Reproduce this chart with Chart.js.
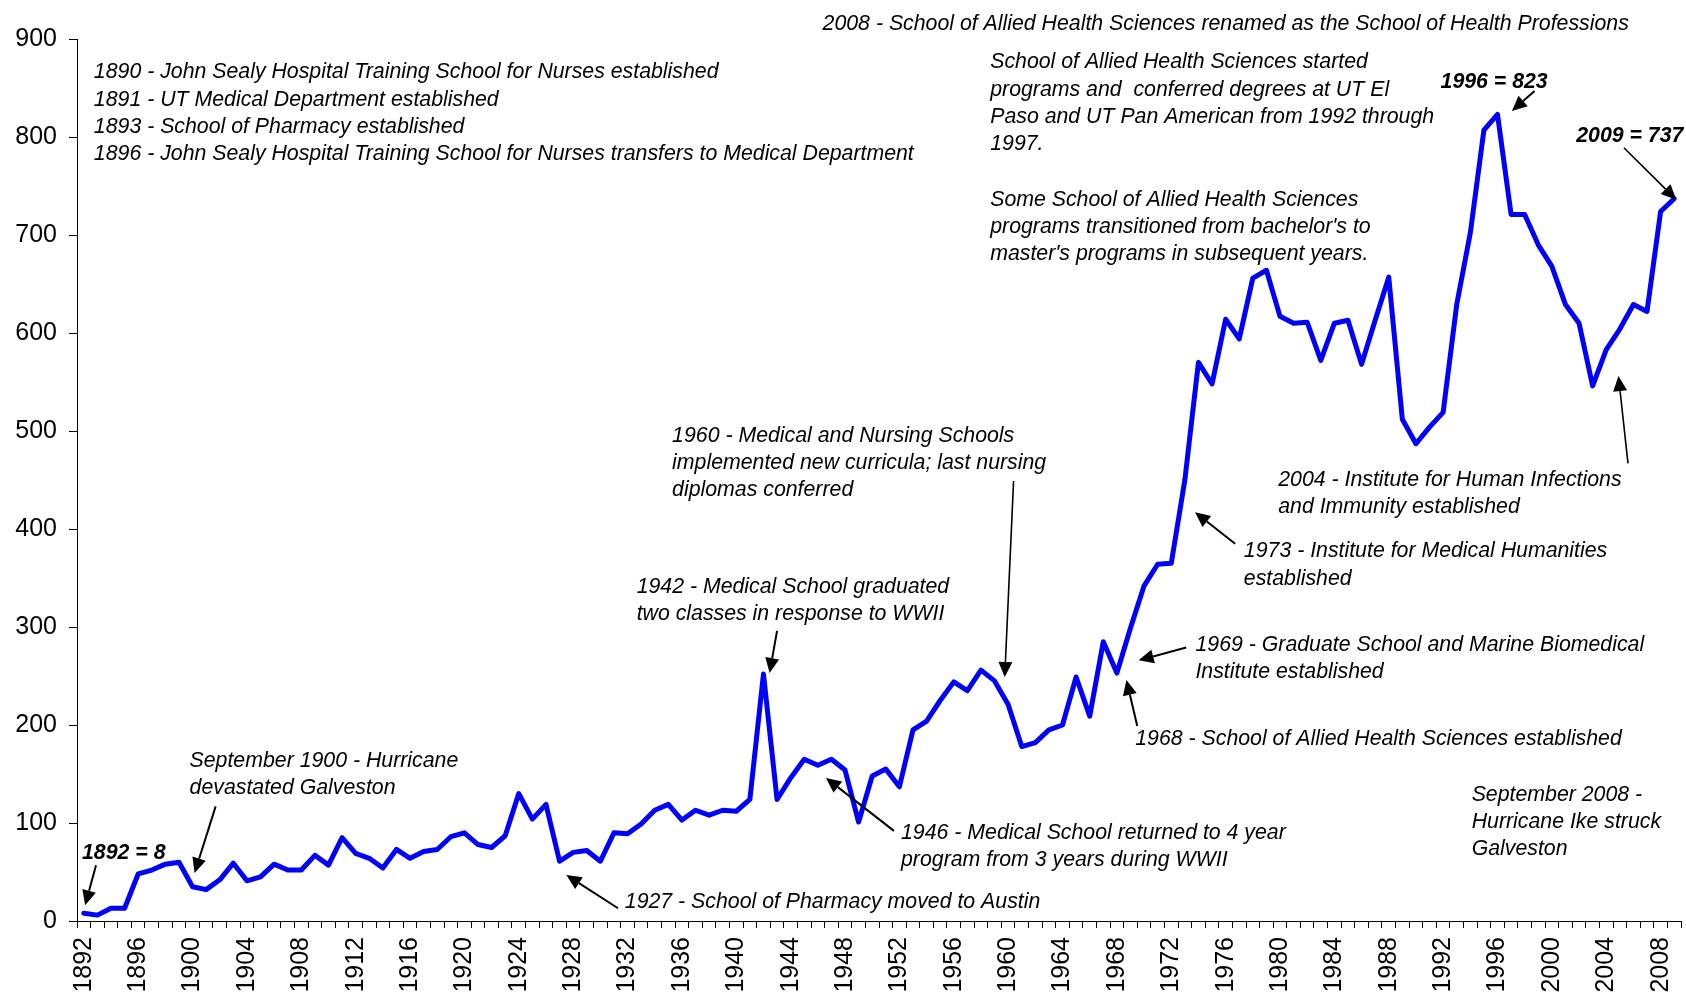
<!DOCTYPE html>
<html>
<head>
<meta charset="utf-8">
<script src="https://cdn.jsdelivr.net/npm/chart.js@4.4.1/dist/chart.umd.min.js"></script>
<style>
html,body{margin:0;padding:0;background:#fff;}
#wrap{width:1686px;height:997px;}
</style>
</head>
<body>
<div id="wrap"><canvas id="c" width="1686" height="997"></canvas></div>
<script>
// ---- categories ----
const years = [
 1892,1893,1894,1895,1896,1897,1898,1899,1900,1901,1902,1903,1904,1905,1906,1907,1908,1909,1910,1911,
 1912,1913,1914,1915,1916,1917,1918,1919,1920,1921,1922,1923,1924,1925,1926,1927,1928,1929,1930,1931,
 1932,1933,1934,1935,1936,1937,1938,1939,1940,1941,1942,1943,1944,1945,1946,1947,1948,1949,1950,1951,
 1952,1953,1954,1955,1956,1957,1958,1959,1960,1961,1962,1963,1964,1965,1966,1967,1968,1969,1970,1971,
 1972,1973,1974,1975,1976,1977,1978,1979,1980,1981,1982,1983,1984,1985,1986,1987,1988,1989,1990,1991,
 1992,1993,1994,1995,1996,1997,1998,1999,2000,2001,2002,2003,2004,2005,2006,2007,2008,2009
];
// ---- series values (graduates per year) ----
const graduates = [
 8,6,13,13,48,52,58,60,35,32,42,59,41,45,58,52,52,67,57,85,
 69,64,54,73,64,71,73,86,90,78,75,87,130,104,119,61,70,72,61,90,
 89,99,113,119,103,113,108,113,112,124,252,124,146,165,159,165,154,101,148,155,
 137,195,204,225,244,235,256,245,221,178,182,195,200,249,209,285,253,299,342,364,
 365,450,570,548,614,594,656,664,617,610,611,572,610,613,568,613,657,512,487,504,
 519,629,702,807,823,721,721,690,668,629,610,546,583,604,629,622,724,737
];
// ---- tick labels ----
const xTickLabels = ['1892','1896','1900','1904','1908','1912','1916','1920','1924','1928','1932','1936','1940','1944','1948','1952','1956','1960','1964','1968','1972','1976','1980','1984','1988','1992','1996','2000','2004','2008'];
const yTickValues = [0,100,200,300,400,500,600,700,800,900];

// ---- annotation texts (anchored in data units: year, value) ----
const notes = [
 {year:1946.35, value:915, bold:false, lines:['2008 - School of Allied Health Sciences renamed as the School of Health Professions']},
 {year:1892.74, value:866, bold:false, lines:['1890 - John Sealy Hospital Training School for Nurses established','1891 - UT Medical Department established','1893 - School of Pharmacy established','1896 - John Sealy Hospital Training School for Nurses transfers to Medical Department']},
 {year:1958.68, value:876, bold:false, lines:['School of Allied Health Sciences started','programs and  conferred degrees at UT El','Paso and UT Pan American from 1992 through','1997.']},
 {year:1958.68, value:736, bold:false, lines:['Some School of Allied Health Sciences','programs transitioned from bachelor\'s to','master\'s programs in subsequent years.']},
 {year:1991.81, value:856, bold:true, lines:['1996 = 823']},
 {year:2001.79, value:800.5, bold:true, lines:['2009 = 737']},
 {year:1979.87, value:450, bold:false, lines:['2004 - Institute for Human Infections','and Immunity established']},
 {year:1977.34, value:377, bold:false, lines:['1973 - Institute for Medical Humanities','established']},
 {year:1973.78, value:282, bold:false, lines:['1969 - Graduate School and Marine Biomedical','Institute established']},
 {year:1969.35, value:186, bold:false, lines:['1968 - School of Allied Health Sciences established']},
 {year:1994.1, value:129, bold:false, lines:['September 2008 -','Hurricane Ike struck','Galveston']},
 {year:1935.28, value:495, bold:false, lines:['1960 - Medical and Nursing Schools','implemented new curricula; last nursing','diplomas conferred']},
 {year:1932.67, value:341, bold:false, lines:['1942 - Medical School graduated','two classes in response to WWII']},
 {year:1952.12, value:90, bold:false, lines:['1946 - Medical School returned to 4 year','program from 3 years during WWII']},
 {year:1931.8, value:19, bold:false, lines:['1927 - School of Pharmacy moved to Austin']},
 {year:1899.78, value:163, bold:false, lines:['September 1900 - Hurricane','devastated Galveston']},
 {year:1891.87, value:69, bold:true, lines:['1892 = 8']}
];
// arrows: tail (year,value) -> head (year,value)
const arrows = [
 {from:[1892.9,57], to:[1892.1,16], heavy:true},
 {from:[1901.7,117], to:[1900.15,49], heavy:true},
 {from:[1931.3,13], to:[1927.5,47], heavy:true},
 {from:[1951.6,92], to:[1946.6,146], heavy:true},
 {from:[1943.0,296], to:[1942.45,253], heavy:true},
 {from:[1960.4,449], to:[1959.75,249], heavy:false},
 {from:[1973.1,279], to:[1969.6,266], heavy:true},
 {from:[1969.5,199], to:[1968.7,246], heavy:true},
 {from:[1976.7,385], to:[1973.75,417], heavy:true},
 {from:[2005.6,467], to:[2004.9,556], heavy:false},
 {from:[1998.73,847], to:[1997.06,826.5], heavy:true},
 {from:[2005.3,789], to:[2009.15,736], heavy:false}
];

const FAMILY = '"Liberation Sans", Arial, Helvetica, sans-serif';
const NOTE_SIZE = 21.3;
const LINE_STEP = 27.3;
const TEXT_DY = 0;

const annotationPlugin = {
  id: 'notes',
  afterDraw(chart) {
    const ctx = chart.ctx;
    const xs = chart.scales.x, ys = chart.scales.y;
    const px = (yr) => xs.getPixelForValue(yr - years[0]);
    const py = (v) => ys.getPixelForValue(v);
    ctx.save();
    ctx.fillStyle = '#000';
    ctx.textBaseline = 'middle';
    ctx.textAlign = 'left';
    notes.forEach(n => {
      ctx.font = (n.bold ? 'italic bold ' : 'italic ') + NOTE_SIZE + 'px ' + FAMILY;
      const x = px(n.year), y0 = py(n.value) + TEXT_DY;
      n.lines.forEach((t, i) => ctx.fillText(t, x, y0 + i * LINE_STEP));
    });
    arrows.forEach(a => {
      const x1 = px(a.from[0]), y1 = py(a.from[1]);
      const x2 = px(a.to[0]), y2 = py(a.to[1]);
      const ang = Math.atan2(y2 - y1, x2 - x1);
      const headLen = 15, headW = 7;
      const bx = x2 - headLen * Math.cos(ang), by = y2 - headLen * Math.sin(ang);
      ctx.strokeStyle = '#000';
      ctx.lineWidth = a.heavy ? 2 : 1.6;
      ctx.beginPath();
      ctx.moveTo(x1, y1);
      ctx.lineTo(bx, by);
      ctx.stroke();
      ctx.beginPath();
      ctx.moveTo(x2, y2);
      ctx.lineTo(bx + headW * Math.sin(ang), by - headW * Math.cos(ang));
      ctx.lineTo(bx - headW * Math.sin(ang), by + headW * Math.cos(ang));
      ctx.closePath();
      ctx.fillStyle = '#000';
      ctx.fill();
    });
    ctx.restore();
  }
};

new Chart(document.getElementById('c'), {
  type: 'line',
  data: {
    labels: years.map(String),
    datasets: [{
      data: graduates,
      borderColor: '#0000FF',
      borderWidth: 5,
      pointRadius: 0,
      tension: 0,
      fill: false,
      borderJoinStyle: 'round',
      borderCapStyle: 'round'
    }]
  },
  options: {
    responsive: false,
    animation: false,
    devicePixelRatio: 1,
    layout: { padding: { top: 39, right: 5, bottom: 0, left: 0 } },
    plugins: { legend: { display: false }, tooltip: { enabled: false } },
    scales: {
      x: {
        type: 'category',
        offset: true,
        grid: { offset: true, drawOnChartArea: false, drawTicks: true, tickLength: 7, color: '#000', lineWidth: 1 },
        border: { display: true, color: '#000', width: 1 },
        ticks: {
          autoSkip: false, maxRotation: 90, minRotation: 90, padding: 9,
          color: '#000', font: { family: FAMILY, size: 25 },
          callback: function(val, idx) {
            const lab = this.getLabelForValue(val);
            return xTickLabels.includes(lab) ? lab : '';
          }
        },
        afterFit: (s) => { s.height = 76; s.paddingLeft = 0; s.paddingRight = 0; }
      },
      y: {
        min: 0, max: 900,
        afterBuildTicks: (s) => { s.ticks = yTickValues.map(v => ({ value: v })); },
        grid: { drawOnChartArea: false, drawTicks: true, tickLength: 8, color: '#000', lineWidth: 1 },
        border: { display: true, color: '#000', width: 1 },
        ticks: { color: '#000', padding: 12, font: { family: FAMILY, size: 25 } },
        afterFit: (s) => { s.width = 77; s.paddingTop = 0; s.paddingBottom = 0; }
      }
    }
  },
  plugins: [annotationPlugin]
});
</script>
</body>
</html>
